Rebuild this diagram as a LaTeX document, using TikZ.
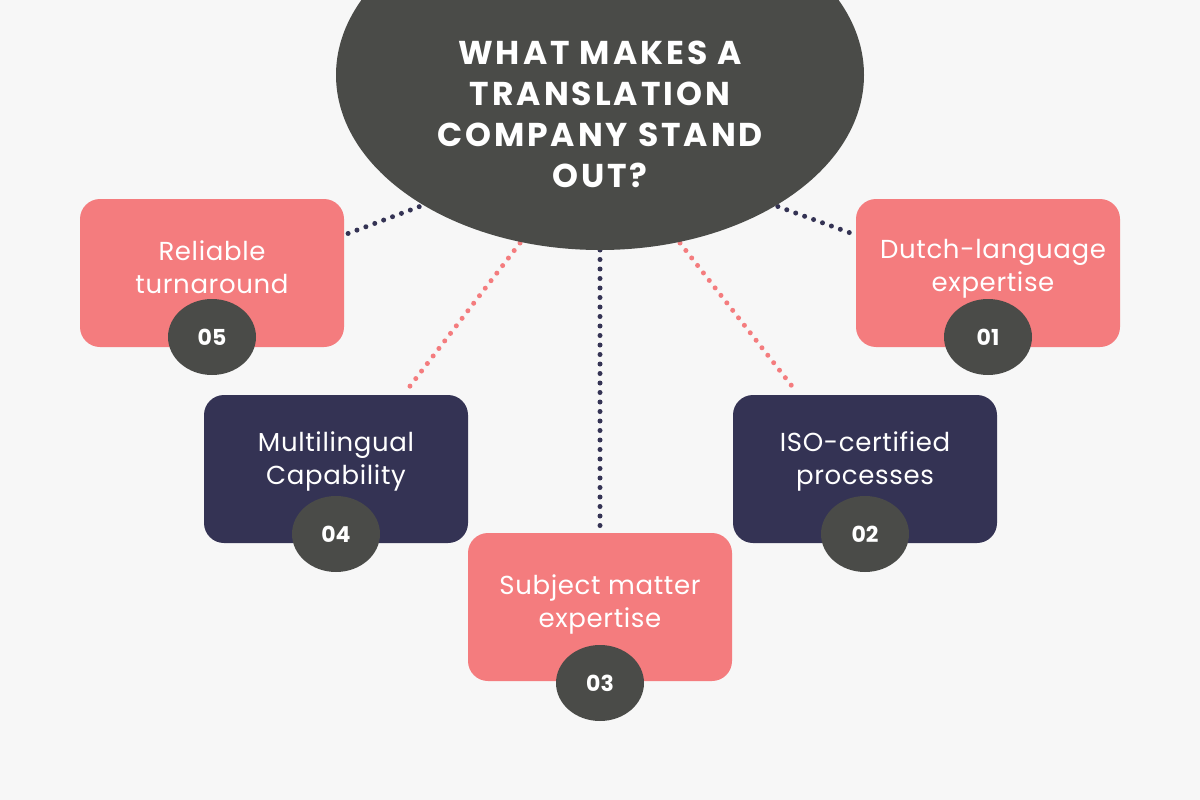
\documentclass[tikz,border=0pt]{standalone}
\usepackage{fontspec}
\setmainfont{Poppins}
\newfontfamily\wideft[LetterSpace=2.5]{Poppins}
\newfontfamily\titleft[LetterSpace=9]{Poppins}
\definecolor{bg}{HTML}{F7F7F7}
\definecolor{dark}{HTML}{4A4B48}
\definecolor{pinkc}{HTML}{F47C7E}
\definecolor{navy}{HTML}{343354}
\usetikzlibrary{shapes.geometric}
\begin{document}
\begin{tikzpicture}[x=1pt,y=-1pt,
 box/.style={rounded corners=20pt,minimum width=264pt,minimum height=148pt,inner sep=0pt},
 lbl/.style={text=white,font=\wideft\fontsize{26}{33}\selectfont,align=center},
 badge/.style={ellipse,fill=dark,minimum width=88pt,minimum height=76pt,inner sep=0pt,text=white,font=\fontsize{22}{26}\selectfont\bfseries},
 dots/.style={line width=5pt,dash pattern=on 0pt off 9.5pt,line cap=round}]
\useasboundingbox (0,0) rectangle (1200,800);
\fill[bg] (0,0) rectangle (1200,800);
\coordinate (c5a) at (437,200); \coordinate (c5b) at (344,235);
\coordinate (c4a) at (520,243); \coordinate (c4b) at (407,390);
\coordinate (c3a) at (600,250); \coordinate (c3b) at (600,533);
\coordinate (c2a) at (680,243); \coordinate (c2b) at (795,390);
\coordinate (c1a) at (760,200); \coordinate (c1b) at (856,235);
\draw[dots,navy] (c5a) -- (c5b);
\draw[dots,pinkc] (c4a) -- (c4b);
\draw[dots,navy] (c3a) -- (c3b);
\draw[dots,pinkc] (c2a) -- (c2b);
\draw[dots,navy] (c1a) -- (c1b);
\begin{scope}
\clip (0,0) rectangle (1200,800);
\fill[dark] (600,75) ellipse [x radius=264,y radius=175];
\end{scope}
\node[text=white,font=\titleft\fontsize{33}{41}\selectfont\bfseries,align=center] (title) at (600,114) {WHAT MAKES A\\TRANSLATION\\COMPANY STAND\\OUT?};
\node[box,fill=pinkc] (b5) at (212,273) {}; \node[lbl] (t5) at (212,267) {Reliable\\turnaround};
\node[box,fill=navy] (b4) at (336,469) {}; \node[lbl] (t4) at (336,461) {Multilingual\\Capability};
\node[box,fill=pinkc] (b3) at (600,607) {}; \node[lbl] (t3) at (600,604) {Subject matter\\expertise};
\node[box,fill=navy] (b2) at (865,469) {}; \node[lbl] (t2) at (865,461) {ISO-certified\\processes};
\node[box,fill=pinkc] (b1) at (988,273) {}; \node[lbl] (t1) at (993,269) {Dutch-language\\expertise};
\node[badge] (n5) at (212,337) {05};
\node[badge] (n4) at (336,534) {04};
\node[badge] (n3) at (600,683) {03};
\node[badge] (n2) at (865,534) {02};
\node[badge] (n1) at (988,337) {01};
\end{tikzpicture}
\end{document}
